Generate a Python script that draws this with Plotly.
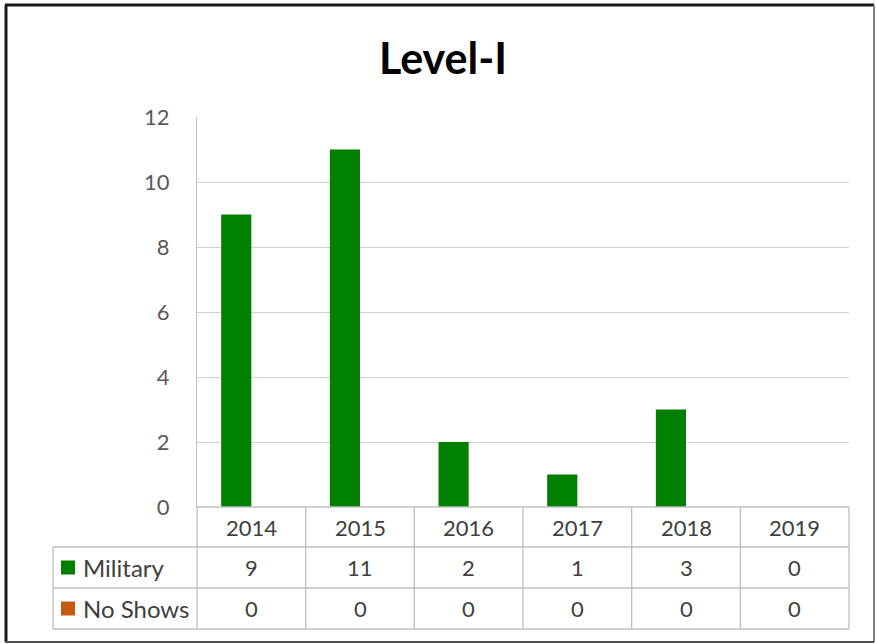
import plotly.graph_objects as go

# ---- data ----
years = ["2014", "2015", "2016", "2017", "2018", "2019"]
military = [9, 11, 2, 1, 3, 0]
no_shows = [0, 0, 0, 0, 0, 0]
series_names = ["Military", "No Shows"]
series_colors = ["#007F00", "#C55A11"]
y_ticks = [0, 2, 4, 6, 8, 10, 12]
title_text = "Level-I"

# ---- geometry (pixels) ----
W, H = 877, 644
L, R, T, B = 197, 849, 117, 507
PW, PH = R - L, B - T
FONT = "Lato"


def px_x(px):
    return (px - L) / PW


def px_y(py):
    return (B - py) / PH


fig = go.Figure()
for name, vals, col in zip(series_names, [military, no_shows], series_colors):
    fig.add_trace(go.Bar(x=years, y=vals, name=name, marker=dict(color=col, line=dict(width=0)),
                         showlegend=False, hoverinfo="skip"))

shapes = []
line_col = "#BFBFBF"
row_lines = [547, 588, 629]
for ry in row_lines:
    shapes.append(dict(type="line", xref="paper", yref="paper", x0=px_x(53), x1=1, y0=px_y(ry), y1=px_y(ry),
                       line=dict(color=line_col, width=1.3)))
shapes.append(dict(type="line", xref="paper", yref="paper", x0=0, x1=1, y0=0, y1=0,
                   line=dict(color=line_col, width=1.3)))
n = len(years)
for i in range(n + 1):
    shapes.append(dict(type="line", xref="paper", yref="paper", x0=i / n, x1=i / n, y0=0, y1=px_y(629),
                       line=dict(color=line_col, width=1.3)))
shapes.append(dict(type="line", xref="paper", yref="paper", x0=px_x(53), x1=px_x(53), y0=px_y(547), y1=px_y(629),
                   line=dict(color=line_col, width=1.3)))

row_centers = [(547 + 588) / 2, (588 + 629) / 2]
annotations = []
tfont = dict(family=FONT, size=22, color="#404040")
lfont = dict(family=FONT, size=24, color="#404040")
for rc, name, col, vals in zip(row_centers, series_names, series_colors, [military, no_shows]):
    shapes.append(dict(type="rect", xref="paper", yref="paper", x0=px_x(61), x1=px_x(75),
                       y0=px_y(rc + 7), y1=px_y(rc - 7), fillcolor=col, line=dict(width=0)))
    annotations.append(dict(xref="paper", yref="paper", x=px_x(81), y=px_y(rc), text=name, showarrow=False,
                            xanchor="left", yanchor="middle", font=lfont))
    for i, v in enumerate(vals):
        annotations.append(dict(xref="paper", yref="paper", x=(i + 0.5) / n, y=px_y(rc), text=str(v),
                                showarrow=False, xanchor="center", yanchor="middle", font=tfont))
for i, yr in enumerate(years):
    annotations.append(dict(xref="paper", yref="paper", x=(i + 0.5) / n, y=px_y(527), text=yr, showarrow=False,
                            xanchor="center", yanchor="middle", font=tfont))

# outer border
shapes += [
    dict(type="line", xref="paper", yref="paper", x0=px_x(5), x1=px_x(874), y0=px_y(5), y1=px_y(5),
         line=dict(color="#1A1A1A", width=3)),
    dict(type="line", xref="paper", yref="paper", x0=px_x(6), x1=px_x(6), y0=px_y(5), y1=px_y(642),
         line=dict(color="#1A1A1A", width=3)),
    dict(type="line", xref="paper", yref="paper", x0=px_x(874), x1=px_x(874), y0=px_y(5), y1=px_y(642),
         line=dict(color="#808080", width=2)),
    dict(type="line", xref="paper", yref="paper", x0=px_x(5), x1=px_x(874), y0=px_y(642), y1=px_y(642),
         line=dict(color="#505050", width=2)),
]

fig.update_layout(
    width=W, height=H,
    margin=dict(l=L, r=W - R, t=T, b=H - B, pad=0),
    paper_bgcolor="white", plot_bgcolor="white",
    barmode="group", bargap=0.445, bargroupgap=0,
    title=dict(text=title_text, x=443 / W, xref="container", xanchor="center",
               y=1 - 59 / H, yref="container", yanchor="middle",
               font=dict(family=FONT, size=43, color="#000000", weight="bold")),
    xaxis=dict(type="category", showticklabels=False, ticks="", showgrid=False, showline=False, zeroline=False,
               range=[-0.5, len(years) - 0.5], fixedrange=True),
    yaxis=dict(range=[0, 12], tickvals=y_ticks, ticks="", showgrid=True, gridcolor="#D0D0D0", gridwidth=1.3,
               zeroline=False, showline=True, linecolor=line_col, linewidth=1.3, fixedrange=True,
               tickfont=dict(family=FONT, size=22, color="#595959"), ticklabelstandoff=22),
    shapes=shapes, annotations=annotations,
    showlegend=False,
)

fig.write_html("out.html", config={"displayModeBar": False},
               post_script="document.body.style.margin='0';document.body.style.overflow='hidden';")
